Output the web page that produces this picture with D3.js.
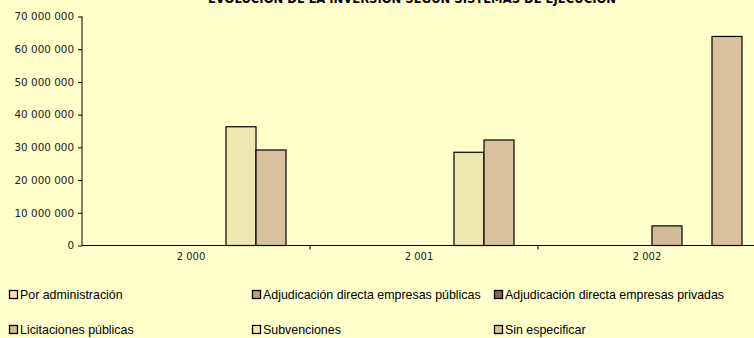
<!DOCTYPE html>
<html>
<head>
<meta charset="utf-8">
<script src="https://cdn.jsdelivr.net/npm/d3@7"></script>
<style>
  html, body { margin: 0; padding: 0; background: #FFFFCC; }
  svg { display: block; }
</style>
</head>
<body>
<svg id="chart" width="754" height="338"></svg>
<script>
// Investment by execution system, per year
const years = ["2 000", "2 001", "2 002"];
const seriesNames = [
  "Por administración",
  "Adjudicación directa empresas públicas",
  "Adjudicación directa empresas privadas",
  "Licitaciones públicas",
  "Subvenciones",
  "Sin especificar"
];
const seriesColors = ["#FDE2B2", "#C8A062", "#806A4A", "#D2BC98", "#EDE7B0", "#D8C29E"];
// one array per series, values per year
const porAdministracion   = [0, 0, 0];
const adjPublicas         = [0, 0, 0];
const adjPrivadas         = [0, 0, 0];
const licitaciones        = [0, 0, 6000000];
const subvenciones        = [36300000, 28500000, 0];
const sinEspecificar      = [29200000, 32250000, 63900000];
const yTicks = [0, 10000000, 20000000, 30000000, 40000000, 50000000, 60000000, 70000000];
const title = "EVOLUCIÓN DE LA INVERSIÓN SEGÚN SISTEMAS DE EJECUCIÓN";

const seriesValues = [porAdministracion, adjPublicas, adjPrivadas, licitaciones, subvenciones, sinEspecificar];

const svg = d3.select("#chart");
const plotLeft = 82, plotRight = 766, plotTop = 16.5, plotBottom = 245.5;
const axisFont = "'DejaVu Sans', Verdana, sans-serif";

const x0 = d3.scaleBand().domain(years).range([plotLeft, plotRight]).paddingInner(0).paddingOuter(0);
const bw = x0.bandwidth();
const gap = bw * 1.6 / 7.6;
const x1 = d3.scaleBand().domain(seriesNames).range([gap / 2, bw - gap / 2]).padding(0);
const y = d3.scaleLinear().domain([0, 70000000]).range([plotBottom, plotTop]);

const fmt = v => d3.format(",")(v).replace(/,/g, " ");

// title (runs off the top edge of the frame)
svg.append("text")
  .attr("x", 412).attr("y", 3)
  .attr("text-anchor", "middle")
  .style("font-family", axisFont)
  .style("font-weight", "bold")
  .style("font-size", "11.6px")
  .attr("fill", "#000")
  .text(title);

// bars
const groups = svg.append("g").selectAll("g")
  .data(years)
  .join("g")
  .attr("transform", d => `translate(${x0(d)},0)`);

groups.selectAll("rect")
  .data((yr, i) => seriesNames.map((s, k) => ({ s, k, v: seriesValues[k][i] })).filter(d => d.v > 0))
  .join("rect")
  .attr("x", d => x1(d.s))
  .attr("width", x1.bandwidth())
  .attr("y", d => y(d.v))
  .attr("height", d => y(0) - y(d.v))
  .attr("fill", d => seriesColors[d.k])
  .attr("stroke", "#000")
  .attr("stroke-width", 1.2);

// y axis
const yAxis = svg.append("g")
  .attr("transform", `translate(${plotLeft},0)`)
  .call(d3.axisLeft(y).tickValues(yTicks).tickFormat(fmt).tickSize(4).tickPadding(4));
yAxis.select(".domain").attr("stroke", "#000").attr("d", `M0,${plotTop}V${plotBottom}`);
yAxis.selectAll(".tick line").attr("stroke", "#000");
yAxis.selectAll("text")
  .style("font-family", axisFont)
  .style("font-size", "10.4px")
  .attr("fill", "#222");

// x axis
const xAxis = svg.append("g")
  .attr("transform", `translate(0,${plotBottom})`)
  .call(d3.axisBottom(x0).tickSize(0).tickPadding(7));
xAxis.select(".domain").attr("stroke", "#000").attr("d", `M${plotLeft},0H${plotRight}`);
xAxis.selectAll(".tick text")
  .attr("dx", -5)
  .style("font-family", axisFont)
  .style("font-size", "10px")
  .attr("fill", "#222");
// category separator ticks
xAxis.selectAll("line.sep")
  .data(years.slice(1))
  .join("line")
  .attr("class", "sep")
  .attr("x1", d => x0(d)).attr("x2", d => x0(d))
  .attr("y1", 0).attr("y2", 4)
  .attr("stroke", "#000");

// legend
const colX = [9, 252, 494];
const rowY = [295, 330];
const legend = svg.append("g");
seriesNames.forEach((name, k) => {
  const cx = colX[k % 3], cy = rowY[Math.floor(k / 3)];
  const g = legend.append("g").attr("transform", `translate(${cx},${cy})`);
  g.append("rect")
    .attr("x", 0.5).attr("y", -4.5)
    .attr("width", 8).attr("height", 8)
    .attr("fill", seriesColors[k])
    .attr("stroke", "#000")
    .attr("stroke-width", 1.3);
  g.append("text")
    .attr("x", 11).attr("y", 4)
    .style("font-family", "'Liberation Sans', Arial, sans-serif")
    .style("font-size", "12.4px")
    .attr("fill", "#000")
    .text(name);
});
</script>
</body>
</html>
